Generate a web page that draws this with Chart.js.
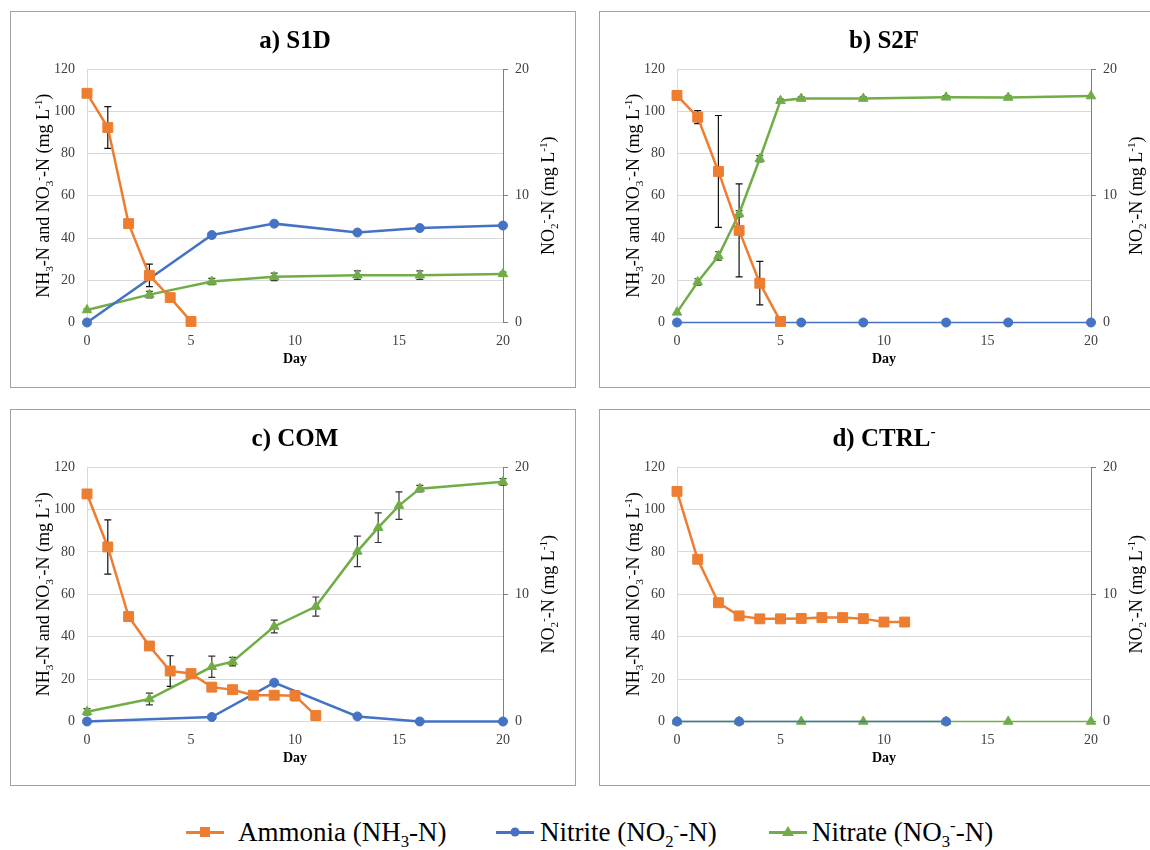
<!DOCTYPE html>
<html>
<head>
<meta charset="utf-8">
<script src="https://cdn.jsdelivr.net/npm/chart.js@4.4.1/dist/chart.umd.min.js"></script>
<style>
  body { margin:0; background:#fff; width:1150px; height:850px; overflow:hidden; position:relative;
         font-family:"Liberation Serif","Times New Roman",serif; }
  .box { position:absolute; border:1.5px solid #a3a3a3; box-sizing:border-box; }
  canvas { position:absolute; }
  .mk { position:absolute; top:818px; width:38px; height:28px; }
  .mk::before { content:''; position:absolute; left:0; right:0; top:12.5px; height:3px; background:var(--c); }
  .mk i { position:absolute; left:50%; top:50%; transform:translate(-50%,-50%); background:var(--c); }
  .mk i.sq { width:10px; height:10px; }
  .mk i.ci { width:9px; height:9px; border-radius:50%; }
  .mk i.tr { width:0; height:0; background:none; border-left:6px solid transparent; border-right:6px solid transparent;
             border-bottom:10px solid var(--c); margin-top:-1px; }
  .tx { position:absolute; top:813px; font-size:27px; line-height:38px; color:#000; white-space:nowrap; }
  .tx sub, .tx sup { font-size:0.62em; line-height:0; }
</style>
</head>
<body>
<div class="box" style="left:10px;top:11px;width:566px;height:377px"></div>
<div class="box" style="left:599px;top:11px;width:566px;height:377px"></div>
<div class="box" style="left:10px;top:409px;width:566px;height:377px"></div>
<div class="box" style="left:599px;top:409px;width:566px;height:377px"></div>
<canvas id="cA"></canvas>
<canvas id="cB"></canvas>
<canvas id="cC"></canvas>
<canvas id="cD"></canvas>

<span class="mk" style="left:186px;--c:#ED7D31"><i class="sq"></i></span>
<span class="tx" style="left:238px">Ammonia (NH<sub>3</sub>-N)</span>
<span class="mk" style="left:496px;--c:#4472C4"><i class="ci"></i></span>
<span class="tx" style="left:540px">Nitrite (NO<sub>2</sub><sup>-</sup>-N)</span>
<span class="mk" style="left:769px;--c:#70AD47"><i class="tr"></i></span>
<span class="tx" style="left:812px">Nitrate (NO<sub>3</sub><sup>-</sup>-N)</span>

<script>
// axis ticks
const xTicks = [0, 5, 10, 15, 20];
const leftTicks = [0, 20, 40, 60, 80, 100, 120];
const rightTicks = [0, 10, 20];

// a) S1D
const s1dAmmDays = [0, 1, 2, 3, 4, 5];
const s1dAmm = [108.5, 92.3, 46.8, 22.3, 11.8, 0.5];
const s1dAmmErr = [0, 9.9, 0, 5.3, 0, 0];
const s1dNo2Days = [0, 6, 9, 13, 16, 20];
const s1dNo2 = [0, 6.9, 7.8, 7.1, 7.45, 7.65];
const s1dNo3Days = [0, 3, 6, 9, 13, 16, 20];
const s1dNo3 = [5.9, 13.2, 19.4, 21.6, 22.4, 22.4, 23];
const s1dNo3Err = [0.6, 1.5, 1.5, 1.8, 2, 2, 0.8];

// b) S2F
const s2fAmmDays = [0, 1, 2, 3, 4, 5];
const s2fAmm = [107.5, 97.2, 71.5, 43.6, 18.6, 0.5];
const s2fAmmErr = [2, 3.1, 26.5, 22, 10.3, 0];
const s2fNo2Days = [0, 6, 9, 13, 16, 20];
const s2fNo2 = [0, 0, 0, 0, 0, 0];
const s2fNo3Days = [0, 1, 2, 3, 4, 5, 6, 9, 13, 16, 20];
const s2fNo3 = [4.8, 19.2, 31.5, 51.5, 77.5, 105, 106, 106, 106.6, 106.5, 107.2];
const s2fNo3Err = [0, 1.5, 2, 1.5, 1.5, 0.8, 0.8, 0.8, 0.8, 0.8, 0];

// c) COM
const comAmmDays = [0, 1, 2, 3, 4, 5, 6, 7, 8, 9, 10, 11];
const comAmm = [107.3, 82.3, 49.5, 35.6, 23.8, 22.6, 16.2, 15, 12.4, 12.4, 12.2, 2.8];
const comAmmErr = [0, 12.8, 0, 0, 7.2, 0, 0, 0, 0, 0, 2.4, 2];
const comNo2Days = [0, 6, 9, 13, 16, 20];
const comNo2 = [0, 0.35, 3.05, 0.4, 0, 0];
const comNo3Days = [0, 3, 6, 7, 9, 11, 13, 14, 15, 16, 20];
const comNo3 = [4.6, 10.6, 25.8, 28.2, 44.8, 54.2, 80.2, 91.4, 101.8, 109.8, 113];
const comNo3Err = [1.5, 2.8, 5, 2, 3, 4.5, 7.2, 7, 6.5, 1.5, 1.5];

// d) CTRL-
const ctrlAmmDays = [0, 1, 2, 3, 4, 5, 6, 7, 8, 9, 10, 11];
const ctrlAmm = [108.5, 76.5, 56, 49.8, 48.4, 48.4, 48.6, 49, 49, 48.5, 46.9, 46.9];
const ctrlAmmErr = [0, 1.6, 0, 0, 0, 0, 0, 0, 0, 0, 0, 0];
const ctrlNo2Days = [0, 3, 13];
const ctrlNo2 = [0, 0, 0];
const ctrlNo3Days = [0, 3, 6, 9, 13, 16, 20];
const ctrlNo3 = [0, 0, 0, 0, 0, 0, 0];

const ORANGE = '#ED7D31', BLUE = '#4472C4', GREEN = '#70AD47';
const FONT = '"Liberation Serif", "Times New Roman", serif';

// rich text with sub/superscripts: segs = [[text, ''|'b'|'p'], ...]
function rich(ctx, segs, x, y, size, bold, rot) {
  ctx.save();
  ctx.translate(x, y);
  if (rot) ctx.rotate(-Math.PI / 2);
  const f = s => (bold ? 'bold ' : '') + s + 'px ' + FONT;
  let total = 0;
  const w = segs.map(([t, k]) => {
    ctx.font = f(k ? size * 0.62 : size);
    const m = ctx.measureText(t).width;
    total += m;
    return m;
  });
  let cx = -total / 2;
  ctx.fillStyle = '#000';
  ctx.textAlign = 'left';
  ctx.textBaseline = 'alphabetic';
  segs.forEach(([t, k], i) => {
    ctx.font = f(k ? size * 0.62 : size);
    const dy = k === 'b' ? size * 0.2 : k === 'p' ? -size * 0.4 : 0;
    ctx.fillText(t, cx, size * 0.34 + dy);
    cx += w[i];
  });
  ctx.restore();
}

const leftTitle = [['NH', ''], ['3', 'b'], ['-N and NO', ''], ['3', 'b'], ['-', 'p'], ['-N (mg L', ''], ['-1', 'p'], [')', '']];
const rightTitle = [['NO', ''], ['2', 'b'], ['-', 'p'], ['-N (mg L', ''], ['-1', 'p'], [')', '']];

const labelsPlugin = {
  id: 'labels',
  afterDraw(chart, args, o) {
    const { ctx, chartArea: a } = chart;
    rich(ctx, o.title, (a.left + a.right) / 2, a.top - 30, 25, true, false);
    rich(ctx, leftTitle, a.left - 44, (a.top + a.bottom) / 2, 18, false, true);
    rich(ctx, rightTitle, a.right + 45, (a.top + a.bottom) / 2, 18, false, true);
    rich(ctx, [['Day', '']], (a.left + a.right) / 2, a.bottom + 36, 14, true, false);
  }
};

const errPlugin = {
  id: 'errbars',
  beforeDatasetsDraw(chart) {
    const ctx = chart.ctx;
    chart.data.datasets.forEach((ds, i) => {
      if (!ds.errs) return;
      const meta = chart.getDatasetMeta(i);
      const ys = chart.scales[ds.yAxisID];
      ctx.save();
      ctx.strokeStyle = ds.errColor;
      ctx.lineWidth = 1.2;
      ds.data.forEach((p, j) => {
        const e = ds.errs[j];
        if (!e) return;
        const x = meta.data[j].x;
        const y1 = ys.getPixelForValue(p.y + e), y2 = ys.getPixelForValue(p.y - e);
        ctx.beginPath();
        ctx.moveTo(x, y1); ctx.lineTo(x, y2);
        ctx.moveTo(x - 3.5, y1); ctx.lineTo(x + 3.5, y1);
        ctx.moveTo(x - 3.5, y2); ctx.lineTo(x + 3.5, y2);
        ctx.stroke();
      });
      ctx.restore();
    });
  }
};

function series(days, vals, errs, color, pt, r, axis, lw, errColor) {
  return {
    data: days.map((d, i) => ({ x: d, y: vals[i] })),
    errs: errs, errColor: errColor || '#111',
    yAxisID: axis,
    borderColor: color, backgroundColor: color,
    pointBackgroundColor: color, pointBorderColor: color,
    borderWidth: lw, pointStyle: pt, pointRadius: r, pointBorderWidth: 1,
    tension: 0, clip: false
  };
}

function panel(id, box, plot, title, sets) {
  const cv = document.getElementById(id);
  const cx = box.x + 2, cy = box.y + 2;
  const W = Math.min(box.x + box.w, 1149) - cx, H = box.y + box.h - 2 - cy;
  cv.width = W; cv.height = H;
  cv.style.left = cx + 'px'; cv.style.top = cy + 'px';
  const tickFont = { family: FONT, size: 14 };
  new Chart(cv, {
    type: 'line',
    data: { datasets: sets },
    options: {
      responsive: false, animation: false,
      layout: { padding: { top: plot.top - cy, left: 0, right: 0, bottom: 0 } },
      plugins: { legend: { display: false }, tooltip: { enabled: false }, labels: { title: title } },
      scales: {
        x: {
          type: 'linear', min: 0, max: 20,
          afterBuildTicks: s => { s.ticks = xTicks.map(v => ({ value: v })); },
          grid: { display: false },
          border: { color: '#d9d9d9' },
          ticks: { font: tickFont, color: '#404040', padding: 2, maxRotation: 0 },
          afterFit: s => { s.height = cy + H - plot.bottom; }
        },
        y: {
          position: 'left', min: 0, max: 120,
          afterBuildTicks: s => { s.ticks = leftTicks.map(v => ({ value: v })); },
          grid: { color: '#d9d9d9', drawTicks: false },
          border: { color: '#d9d9d9' },
          ticks: { font: tickFont, color: '#404040', padding: 12 },
          afterFit: s => { s.width = plot.left - cx; }
        },
        y2: {
          position: 'right', min: 0, max: 20,
          afterBuildTicks: s => { s.ticks = rightTicks.map(v => ({ value: v })); },
          grid: { drawOnChartArea: false, color: '#7f7f7f', tickLength: 5 },
          border: { color: '#7f7f7f' },
          ticks: { font: tickFont, color: '#404040', padding: 7 },
          afterFit: s => { s.width = cx + W - plot.right; }
        }
      }
    },
    plugins: [errPlugin, labelsPlugin]
  });
}

const boxA = { x: 10, y: 11, w: 566, h: 377 }, boxB = { x: 599, y: 11, w: 566, h: 377 };
const boxC = { x: 10, y: 409, w: 566, h: 377 }, boxD = { x: 599, y: 409, w: 566, h: 377 };

panel('cA', boxA, { left: 87, right: 503, top: 69, bottom: 322.5 }, [['a) S1D', '']], [
  series(s1dAmmDays, s1dAmm, s1dAmmErr, ORANGE, 'rect', 7, 'y', 2.5),
  series(s1dNo2Days, s1dNo2, null, BLUE, 'circle', 4.5, 'y2', 2.5),
  series(s1dNo3Days, s1dNo3, s1dNo3Err, GREEN, 'triangle', 5.5, 'y', 2.5, '#333')
]);
panel('cB', boxB, { left: 677, right: 1091, top: 69, bottom: 322.5 }, [['b) S2F', '']], [
  series(s2fAmmDays, s2fAmm, s2fAmmErr, ORANGE, 'rect', 7, 'y', 2.5),
  series(s2fNo2Days, s2fNo2, null, BLUE, 'circle', 4.5, 'y2', 1.5),
  series(s2fNo3Days, s2fNo3, s2fNo3Err, GREEN, 'triangle', 5.5, 'y', 2.5, '#333')
]);
panel('cC', boxC, { left: 87, right: 503, top: 467, bottom: 721.5 }, [['c) COM', '']], [
  series(comAmmDays, comAmm, comAmmErr, ORANGE, 'rect', 7, 'y', 2.5),
  series(comNo2Days, comNo2, null, BLUE, 'circle', 4.5, 'y2', 2.5),
  series(comNo3Days, comNo3, comNo3Err, GREEN, 'triangle', 5.5, 'y', 2.5, '#333')
]);
panel('cD', boxD, { left: 677, right: 1091, top: 467, bottom: 721.5 }, [['d) CTRL', ''], ['-', 'p']], [
  series(ctrlAmmDays, ctrlAmm, ctrlAmmErr, ORANGE, 'rect', 7, 'y', 2.5),
  series(ctrlNo2Days, ctrlNo2, null, BLUE, 'circle', 4.5, 'y2', 1.5),
  series(ctrlNo3Days, ctrlNo3, null, GREEN, 'triangle', 5.5, 'y', 1.5, '#333')
]);
</script>
</body>
</html>
